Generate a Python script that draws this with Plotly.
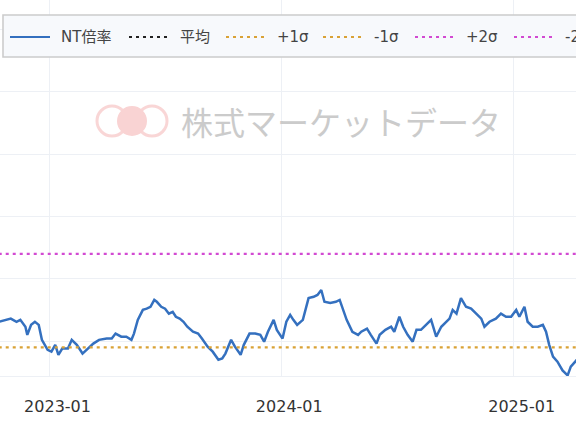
import plotly.graph_objects as go

W, H = 576, 430
MARGIN_B = 54
PLOT_H = H - MARGIN_B

# NT倍率 (weekly readings)
DATES = [
    "2022-10-13", "2022-10-27", "2022-11-01", "2022-11-10", "2022-11-16", "2022-11-24",
    "2022-11-27", "2022-12-03", "2022-12-09", "2022-12-15", "2022-12-20", "2022-12-29",
    "2023-01-04", "2023-01-10", "2023-01-15", "2023-01-21", "2023-01-30", "2023-02-05",
    "2023-02-13", "2023-02-22", "2023-03-03", "2023-03-11", "2023-03-20", "2023-04-01",
    "2023-04-09", "2023-04-15", "2023-04-24", "2023-05-02", "2023-05-10", "2023-05-14",
    "2023-05-20", "2023-05-28", "2023-06-03", "2023-06-09", "2023-06-15", "2023-06-19",
    "2023-06-26", "2023-07-02", "2023-07-08", "2023-07-14", "2023-07-19", "2023-07-25",
    "2023-07-31", "2023-08-06", "2023-08-15", "2023-08-23", "2023-08-29", "2023-09-07",
    "2023-09-15", "2023-09-24", "2023-09-30", "2023-10-05", "2023-10-14", "2023-10-20",
    "2023-10-29", "2023-11-03", "2023-11-12", "2023-11-21", "2023-11-29", "2023-12-05",
    "2023-12-11", "2023-12-20", "2023-12-25", "2024-01-03", "2024-01-09", "2024-01-15",
    "2024-01-20", "2024-01-26", "2024-02-04", "2024-02-07", "2024-02-13", "2024-02-21",
    "2024-02-27", "2024-03-04", "2024-03-09", "2024-03-18", "2024-03-27", "2024-04-02",
    "2024-04-07", "2024-04-13", "2024-04-22", "2024-05-01", "2024-05-06", "2024-05-15",
    "2024-05-21", "2024-05-30", "2024-06-04", "2024-06-13", "2024-06-22", "2024-06-27",
    "2024-07-05", "2024-07-11", "2024-07-18", "2024-07-26", "2024-08-01", "2024-08-08",
    "2024-08-16", "2024-08-24", "2024-09-01", "2024-09-09", "2024-09-22", "2024-09-27",
    "2024-10-03", "2024-10-10", "2024-10-18", "2024-10-26", "2024-11-03", "2024-11-11",
    "2024-11-16", "2024-11-24", "2024-12-04", "2024-12-12", "2024-12-20", "2024-12-28",
    "2025-01-05", "2025-01-10", "2025-01-18", "2025-01-23", "2025-01-31", "2025-02-08",
    "2025-02-16", "2025-02-21", "2025-02-26", "2025-03-04", "2025-03-11", "2025-03-19",
    "2025-03-27", "2025-04-01", "2025-04-08", "2025-04-12",
]
NT_RATIO = [
    14.31, 14.34, 14.36, 14.31, 14.34, 14.23,
    14.10, 14.26, 14.31, 14.26, 14.02, 13.86,
    13.83, 13.94, 13.78, 13.88, 13.88, 14.02,
    13.94, 13.80, 13.88, 13.96, 14.02, 14.04,
    14.04, 14.12, 14.07, 14.07, 14.02, 14.12,
    14.34, 14.50, 14.52, 14.55, 14.66, 14.63,
    14.55, 14.52, 14.44, 14.47, 14.39, 14.36,
    14.31, 14.23, 14.15, 14.12, 14.04, 13.91,
    13.83, 13.70, 13.72, 13.80, 14.02, 13.91,
    13.78, 13.94, 14.12, 14.12, 14.10, 13.99,
    14.15, 14.34, 14.18, 14.04, 14.31, 14.42,
    14.34, 14.26, 14.34, 14.47, 14.69, 14.71,
    14.74, 14.82, 14.63, 14.61, 14.63, 14.66,
    14.52, 14.34, 14.15, 14.10, 14.15, 14.20,
    14.10, 13.96, 14.10, 14.18, 14.23, 14.15,
    14.39, 14.23, 14.10, 13.99, 14.18, 14.18,
    14.26, 14.34, 14.07, 14.23, 14.36, 14.50,
    14.44, 14.69, 14.55, 14.52, 14.44, 14.36,
    14.23, 14.31, 14.36, 14.44, 14.39, 14.39,
    14.50, 14.39, 14.55, 14.31, 14.23, 14.23,
    14.26, 14.15, 13.94, 13.75, 13.67, 13.53,
    13.45, 13.59, 13.67, 13.72,
]

MEAN = 12.4
SIGMA = 1.5
BAND_NAMES = ["平均", "+1σ", "-1σ", "+2σ", "-2σ"]
BAND_SIGMAS = [0, 1, -1, 2, -2]

X_RANGE = ["2022-10-15", "2025-04-09 05:00"]
Y_RANGE = [13.44, 19.47]

LINE_BLUE = "#3470bf"
BAND_COLORS = {"平均": "#222222", "+1σ": "#d9a236", "-1σ": "#d9a236",
               "+2σ": "#d24ad2", "-2σ": "#d24ad2"}
GRID = "#edf0f5"
FONT = "DejaVu Sans, Noto Sans CJK JP, sans-serif"


def px(x):
    return x / W


def py(y):
    return (PLOT_H - y) / PLOT_H


fig = go.Figure()
fig.add_trace(go.Scatter(
    x=DATES, y=NT_RATIO, mode="lines", name="NT倍率",
    line=dict(color=LINE_BLUE, width=2.5),
))
for name, k in zip(BAND_NAMES, BAND_SIGMAS):
    level = MEAN + k * SIGMA
    fig.add_trace(go.Scatter(
        x=[DATES[0], DATES[-1]], y=[level, level], mode="lines", name=name,
        line=dict(color=BAND_COLORS[name], width=2.2, dash="3px,4px"),
    ))

shapes = []
annotations = []

# watermark: logo + text
for cx, filled in [(112, False), (152, False), (132, True)]:
    shapes.append(dict(
        type="circle", xref="paper", yref="paper", layer="below",
        x0=px(cx - 15), x1=px(cx + 15), y0=py(136), y1=py(106),
        line=dict(color="#f9d6d6", width=3 if not filled else 0),
        fillcolor="#f9d3d3" if filled else "rgba(0,0,0,0)",
    ))
annotations.append(dict(
    text="株式マーケットデータ", xref="paper", yref="paper", x=px(179), y=py(121),
    xanchor="left", yanchor="middle", showarrow=False,
    font=dict(family="Noto Sans CJK JP", size=32, color="#cbcbcb"),
))

# legend box drawn by hand (it runs off the right edge in the original)
shapes.append(dict(
    type="rect", xref="paper", yref="paper", layer="above",
    x0=px(3), x1=px(620), y0=py(57), y1=py(15),
    line=dict(color="#cccccc", width=1.6), fillcolor="#f7f9fc",
))
legend_items = [("NT倍率", LINE_BLUE, "solid", 10)] + [
    (n, BAND_COLORS[n], "3px,4px", x0)
    for n, x0 in zip(["平均", "+1σ", "-1σ", "+2σ", "-2σ"], [129, 226, 323, 415, 514])
]
for name, color, dash, x0 in legend_items:
    shapes.append(dict(
        type="line", xref="paper", yref="paper", layer="above",
        x0=px(x0), x1=px(x0 + 40), y0=py(37), y1=py(37),
        line=dict(color=color, width=2.2, dash=dash),
    ))
    annotations.append(dict(
        text=name, xref="paper", yref="paper", x=px(x0 + 49), y=py(37),
        xanchor="left", yanchor="middle", showarrow=False,
        font=dict(family=FONT, size=15, color="#444444"),
    ))

fig.update_layout(
    width=W, height=H,
    margin=dict(l=0, r=0, t=0, b=MARGIN_B),
    paper_bgcolor="white", plot_bgcolor="white",
    showlegend=False,
    shapes=shapes, annotations=annotations,
    font=dict(family=FONT, color="#333333"),
)
fig.update_xaxes(
    type="date", range=X_RANGE, tick0="2023-01-01", dtick="M12", tickformat="%Y-%m",
    showgrid=True, gridcolor=GRID, gridwidth=1,
    showline=True, linecolor=GRID, linewidth=1,
    ticks="", ticklabelshift=8, ticklabelstandoff=16,
    tickfont=dict(size=16, color="#333333"),
)
fig.update_yaxes(
    range=Y_RANGE, dtick=1, showgrid=True, gridcolor=GRID, gridwidth=1,
    zeroline=False, showticklabels=False, ticks="",
)

# the page body has a default 8px margin; drop it so the figure sits at 0,0
fig.write_html(
    "out.html",
    config={"displayModeBar": False},
    post_script="document.body.style.margin='0';",
)
